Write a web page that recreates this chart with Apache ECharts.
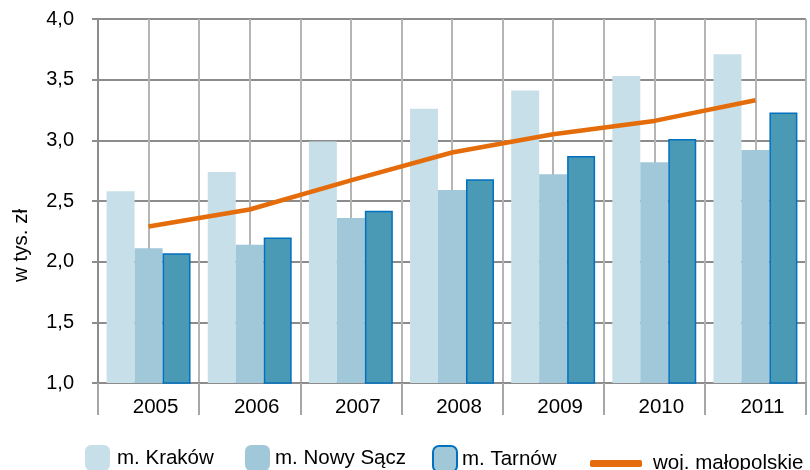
<!DOCTYPE html>
<html>
<head>
<meta charset="utf-8">
<script src="https://cdn.jsdelivr.net/npm/echarts@6/dist/echarts.min.js"></script>
<style>
  html, body { margin: 0; padding: 0; background: #fff; }
  #chart { width: 810px; height: 470px; }
</style>
</head>
<body>
<div id="chart"></div>
<script>
const years = ["2005", "2006", "2007", "2008", "2009", "2010", "2011"];
const krakow = [2.58, 2.74, 2.99, 3.26, 3.41, 3.53, 3.71];
const nowySacz = [2.11, 2.14, 2.36, 2.59, 2.72, 2.82, 2.92];
const tarnow = [2.07, 2.20, 2.42, 2.68, 2.87, 3.01, 3.23];
const malopolskie = [2.29, 2.43, 2.67, 2.90, 3.05, 3.16, 3.33];
const yTicks = [1.0, 1.5, 2.0, 2.5, 3.0, 3.5, 4.0];

const font = "'Liberation Sans', Arial, sans-serif";

// half-category grid: two lines per year
const halfCats = [];
years.forEach(function (y) { halfCats.push(y + "a", y + "b"); });

function legendAt(left, name, extra) {
  return Object.assign({
    left: left,
    top: 445,
    padding: 0,
    itemWidth: 25,
    itemHeight: 26,
    itemGap: 0,
    selectedMode: false,
    data: [name],
    textStyle: { fontFamily: font, fontSize: 20.5, color: "#000", padding: [0, 0, 0, 2] }
  }, extra || {});
}

const chart = echarts.init(document.getElementById("chart"));

chart.setOption({
  animation: false,
  grid: { left: 98, right: 4, top: 19, bottom: 87 },
  legend: [
    legendAt(85, "m. Kraków"),
    legendAt(245, "m. Nowy Sącz", {
      textStyle: { fontFamily: font, fontSize: 20.5, color: "#000", padding: [0, 0, 0, 0] }
    }),
    legendAt(432, "m. Tarnów", {
      itemWidth: 24,
      data: [{ name: "m. Tarnów", itemStyle: { color: "#A0C8D8", borderColor: "#0070C0", borderWidth: 2 } }],
      textStyle: { fontFamily: font, fontSize: 20.5, color: "#000", padding: [0, 0, 0, 0] }
    }),
    legendAt(590, "woj. małopolskie", {
      top: 453,
      itemWidth: 52,
      itemHeight: 7,
      data: [{ name: "woj. małopolskie", icon: "roundRect" }],
      textStyle: { fontFamily: font, fontSize: 20.5, color: "#000", padding: [0, 0, 0, 6] }
    })
  ],
  graphic: [{
    type: "text",
    left: 11,
    top: 209,
    rotation: Math.PI / 2,
    style: { text: "w tys. zł", fontFamily: font, fontSize: 20.5, fill: "#000" }
  }],
  xAxis: [{
    type: "category",
    data: years,
    axisLine: { lineStyle: { color: "#8c8c8c", width: 2 } },
    axisTick: { show: true, interval: 0, length: 32, lineStyle: { color: "#a6a6a6", width: 2 } },
    axisLabel: { interval: 0, margin: 14, fontFamily: font, fontSize: 20.5, color: "#000", padding: [0, 0, 0, 14] },
    splitLine: { show: false }
  }, {
    type: "category",
    data: halfCats,
    position: "bottom",
    axisLine: { show: false },
    axisTick: { show: false },
    axisLabel: { show: false },
    splitLine: { show: true, interval: 0, lineStyle: { color: "#b5b5b5", width: 2 } }
  }],
  yAxis: {
    type: "value",
    min: yTicks[0],
    max: yTicks[yTicks.length - 1],
    interval: 0.5,
    axisLine: { show: true, lineStyle: { color: "#8c8c8c", width: 2 } },
    axisTick: { show: true, length: 6, lineStyle: { color: "#8c8c8c", width: 2 } },
    axisLabel: {
      margin: 24,
      fontFamily: font,
      fontSize: 20,
      color: "#000",
      formatter: function (v) { return v.toFixed(1).replace(".", ","); }
    },
    splitLine: { lineStyle: { color: "#8c8c8c", width: 2 } }
  },
  series: [{
    name: "m. Kraków",
    type: "bar",
    data: krakow,
    barGap: "0%",
    barCategoryGap: "17%",
    itemStyle: { color: "#C7DFE8" }
  }, {
    name: "m. Nowy Sącz",
    type: "bar",
    data: nowySacz,
    itemStyle: { color: "#A0C8D8" }
  }, {
    name: "m. Tarnów",
    type: "bar",
    data: tarnow,
    itemStyle: { color: "#4A99B5", borderColor: "#0070C0", borderWidth: 1.5 }
  }, {
    name: "woj. małopolskie",
    type: "line",
    data: malopolskie,
    symbol: "none",
    z: 5,
    itemStyle: { color: "#E46C0A" },
    lineStyle: { color: "#E46C0A", width: 4.5 }
  }]
});

window.addEventListener("resize", function () { chart.resize(); });
</script>
</body>
</html>
